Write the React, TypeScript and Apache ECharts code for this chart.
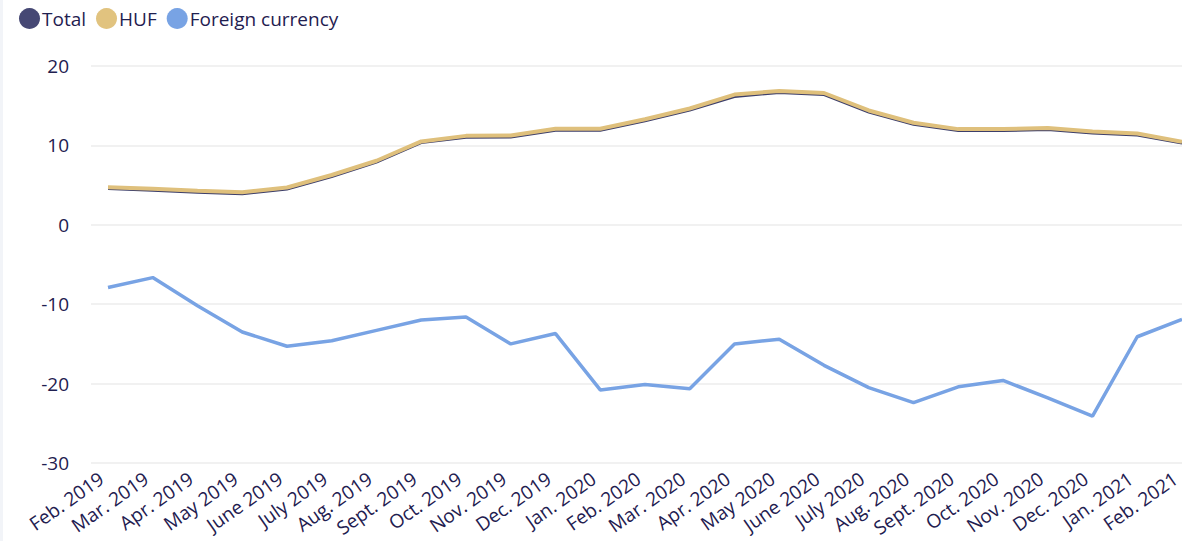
import React, { useEffect, useRef } from "react";
import * as echarts from "echarts";

const categories = [
  "Feb. 2019", "Mar. 2019", "Apr. 2019", "May 2019", "June 2019", "July 2019",
  "Aug. 2019", "Sept. 2019", "Oct. 2019", "Nov. 2019", "Dec. 2019", "Jan. 2020",
  "Feb. 2020", "Mar. 2020", "Apr. 2020", "May 2020", "June 2020", "July 2020",
  "Aug. 2020", "Sept. 2020", "Oct. 2020", "Nov. 2020", "Dec. 2020", "Jan. 2021",
  "Feb. 2021",
];

const totalValues = [
  4.5, 4.3, 4.05, 3.85, 4.45, 6.0, 7.85, 10.3, 10.95, 11.0, 11.85, 11.85,
  13.05, 14.4, 16.1, 16.6, 16.35, 14.15, 12.6, 11.8, 11.8, 11.95, 11.5, 11.25, 10.25,
];

const hufValues = [
  4.72, 4.55, 4.3, 4.1, 4.7, 6.27, 8.07, 10.5, 11.2, 11.25, 12.1, 12.1,
  13.3, 14.65, 16.4, 16.86, 16.6, 14.4, 12.85, 12.05, 12.05, 12.2, 11.75, 11.5, 10.45,
];

const foreignValues = [
  -7.9, -6.65, -10.2, -13.5, -15.3, -14.6, -13.3, -12.0, -11.6, -15.0, -13.7, -20.8,
  -20.1, -20.65, -15.0, -14.4, -17.7, -20.5, -22.4, -20.4, -19.6, -21.8, -24.1, -14.1, -11.9,
];

const yMin = -30;
const yMax = 20;
const yStep = 10;

const TEXT = "#1f2050";
const FONT = "'Open Sans', sans-serif";

export default function App() {
  const ref = useRef<HTMLDivElement>(null);

  useEffect(() => {
    if (!ref.current) return;
    const chart = echarts.init(ref.current, undefined, { renderer: "svg" });
    chart.setOption({
      animation: false,
      backgroundColor: "#ffffff",
      textStyle: { fontFamily: FONT, color: TEXT },
      graphic: [
        { type: "rect", left: 0, top: 0, shape: { width: 3, height: 541 }, style: { fill: "#f2f4f8" } },
      ],
      legend: {
        left: 14,
        top: 3,
        icon: "circle",
        itemWidth: 21,
        itemHeight: 21,
        itemGap: 10,
        textStyle: { fontFamily: FONT, fontSize: 19, color: TEXT, padding: [0, 0, 0, -3] },
        data: ["Total", "HUF", "Foreign currency"],
      },
      grid: [
        { left: 91, right: 0, top: 66, bottom: 78, outerBoundsMode: "none" },
        { left: 108, right: 0, top: 66, bottom: 78, outerBoundsMode: "none" },
      ],
      xAxis: [
        { type: "value", gridIndex: 0, show: false, min: 0, max: 1 },
        {
          type: "category",
          gridIndex: 1,
          data: categories,
          boundaryGap: false,
          axisLine: { show: false },
          axisTick: { show: false },
          axisLabel: {
            rotate: 35,
            interval: 0,
            margin: 9,
            fontSize: 19,
            fontFamily: FONT,
            color: TEXT,
            padding: [0, 8, 0, 0],
          },
        },
      ],
      yAxis: [
        {
          type: "value",
          gridIndex: 0,
          min: yMin,
          max: yMax,
          interval: yStep,
          axisLine: { show: false },
          axisTick: { show: false },
          axisLabel: { margin: 22, fontSize: 19, fontFamily: FONT, color: TEXT },
          splitLine: { lineStyle: { color: "#ececec", width: 1.5 } },
        },
        {
          type: "value",
          gridIndex: 1,
          min: yMin,
          max: yMax,
          interval: yStep,
          show: false,
          splitLine: { show: false },
        },
      ],
      series: [
        {
          name: "Foreign currency",
          type: "line",
          xAxisIndex: 1,
          yAxisIndex: 1,
          data: foreignValues,
          showSymbol: false,
          symbol: "circle",
          color: "#78a3e4",
          lineStyle: { width: 3.5, color: "#78a3e4" },
        },
        {
          name: "Total",
          type: "line",
          xAxisIndex: 1,
          yAxisIndex: 1,
          data: totalValues,
          showSymbol: false,
          symbol: "circle",
          color: "#464874",
          lineStyle: { width: 2, color: "#3c3e6a" },
        },
        {
          name: "HUF",
          type: "line",
          xAxisIndex: 1,
          yAxisIndex: 1,
          data: hufValues,
          showSymbol: false,
          symbol: "circle",
          color: "#e1c37f",
          lineStyle: { width: 4, color: "#dfc07c" },
        },
      ],
    });
    return () => chart.dispose();
  }, []);

  return (
    <div
      ref={ref}
      style={{ position: "absolute", left: 0, top: 0, width: 1182, height: 541 }}
    />
  );
}
